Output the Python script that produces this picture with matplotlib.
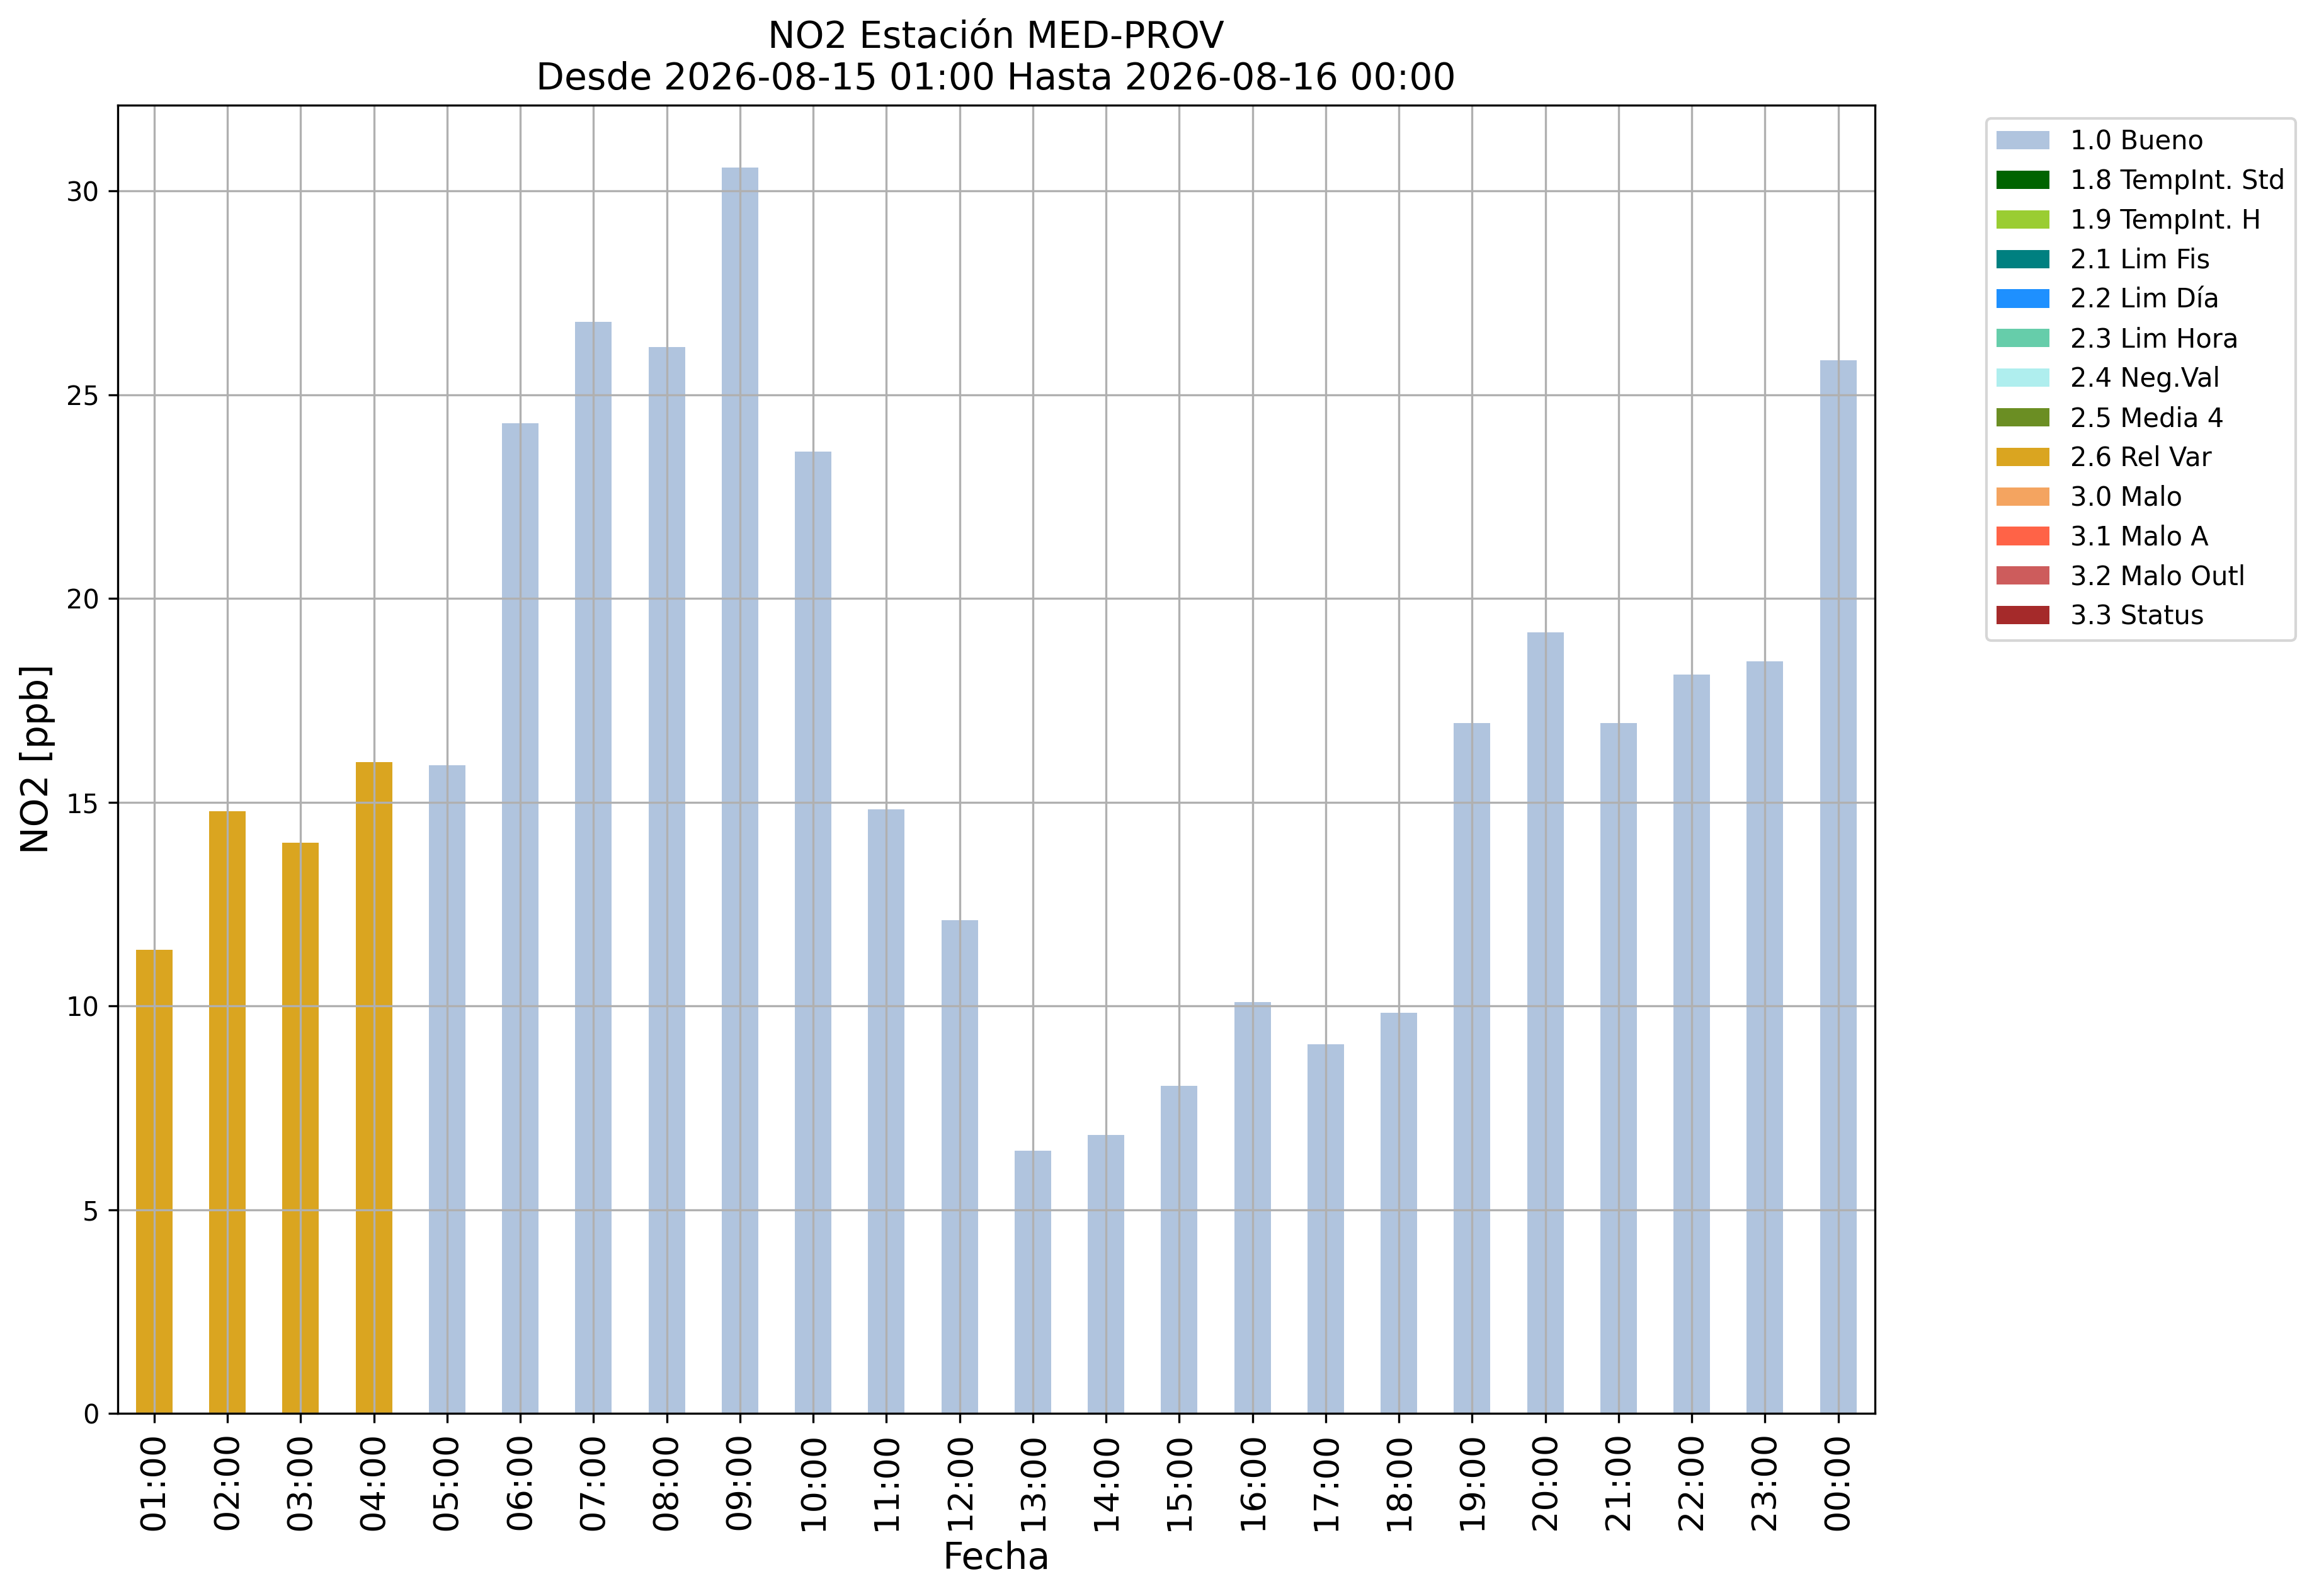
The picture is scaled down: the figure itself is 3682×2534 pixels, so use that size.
import matplotlib
matplotlib.use("Agg")
import matplotlib.pyplot as plt
from matplotlib.patches import Patch

hours = ["01:00", "02:00", "03:00", "04:00", "05:00", "06:00", "07:00", "08:00",
         "09:00", "10:00", "11:00", "12:00", "13:00", "14:00", "15:00", "16:00",
         "17:00", "18:00", "19:00", "20:00", "21:00", "22:00", "23:00", "00:00"]
no2_values = [11.37, 14.78, 14.01, 15.99, 15.90, 24.30, 26.78, 26.17,
              30.58, 23.61, 14.83, 12.10, 6.45, 6.83, 8.04, 10.10,
              9.06, 9.83, 16.94, 19.16, 16.94, 18.13, 18.45, 25.84]
flags = ["2.6 Rel Var"] * 4 + ["1.0 Bueno"] * 20

flag_labels = ["1.0 Bueno", "1.8 TempInt. Std", "1.9 TempInt. H", "2.1 Lim Fis",
               "2.2 Lim Día", "2.3 Lim Hora", "2.4 Neg.Val", "2.5 Media 4",
               "2.6 Rel Var", "3.0 Malo", "3.1 Malo A", "3.2 Malo Outl", "3.3 Status"]
flag_colors = ["lightsteelblue", "darkgreen", "yellowgreen", "teal",
               "dodgerblue", "mediumaquamarine", "paleturquoise", "olivedrab",
               "goldenrod", "sandybrown", "tomato", "indianred", "brown"]
color_map = dict(zip(flag_labels, flag_colors))

fig = plt.figure(figsize=(3682 / 300, 2534 / 300), dpi=300)
ax = fig.add_axes([186.7 / 3682, 1 - 2244 / 2534, 2790 / 3682, (2244 - 166.7) / 2534])

x = list(range(len(hours)))
ax.bar(x, no2_values, width=0.5, color=[color_map[f] for f in flags])
ax.set_xlim(-0.5, len(hours) - 0.5)
ax.set_xticks(x)
ax.set_xticklabels(hours, rotation=90, fontsize=13)
ax.tick_params(axis="y", labelsize=10)
ax.grid(True)
ax.set_axisbelow("line")

ax.set_xlabel("Fecha", fontsize=14)
ax.set_ylabel("NO2 [ppb]", fontsize=14)
ax.set_title("NO2 Estación MED-PROV\nDesde 2026-08-15 01:00 Hasta 2026-08-16 00:00",
             fontsize=14)

handles = [Patch(facecolor=c, label=l) for l, c in zip(flag_labels, flag_colors)]
ax.legend(handles=handles, loc="upper left", bbox_to_anchor=(1.056, 1), fontsize=10)

fig.savefig("out.png", dpi=300)
